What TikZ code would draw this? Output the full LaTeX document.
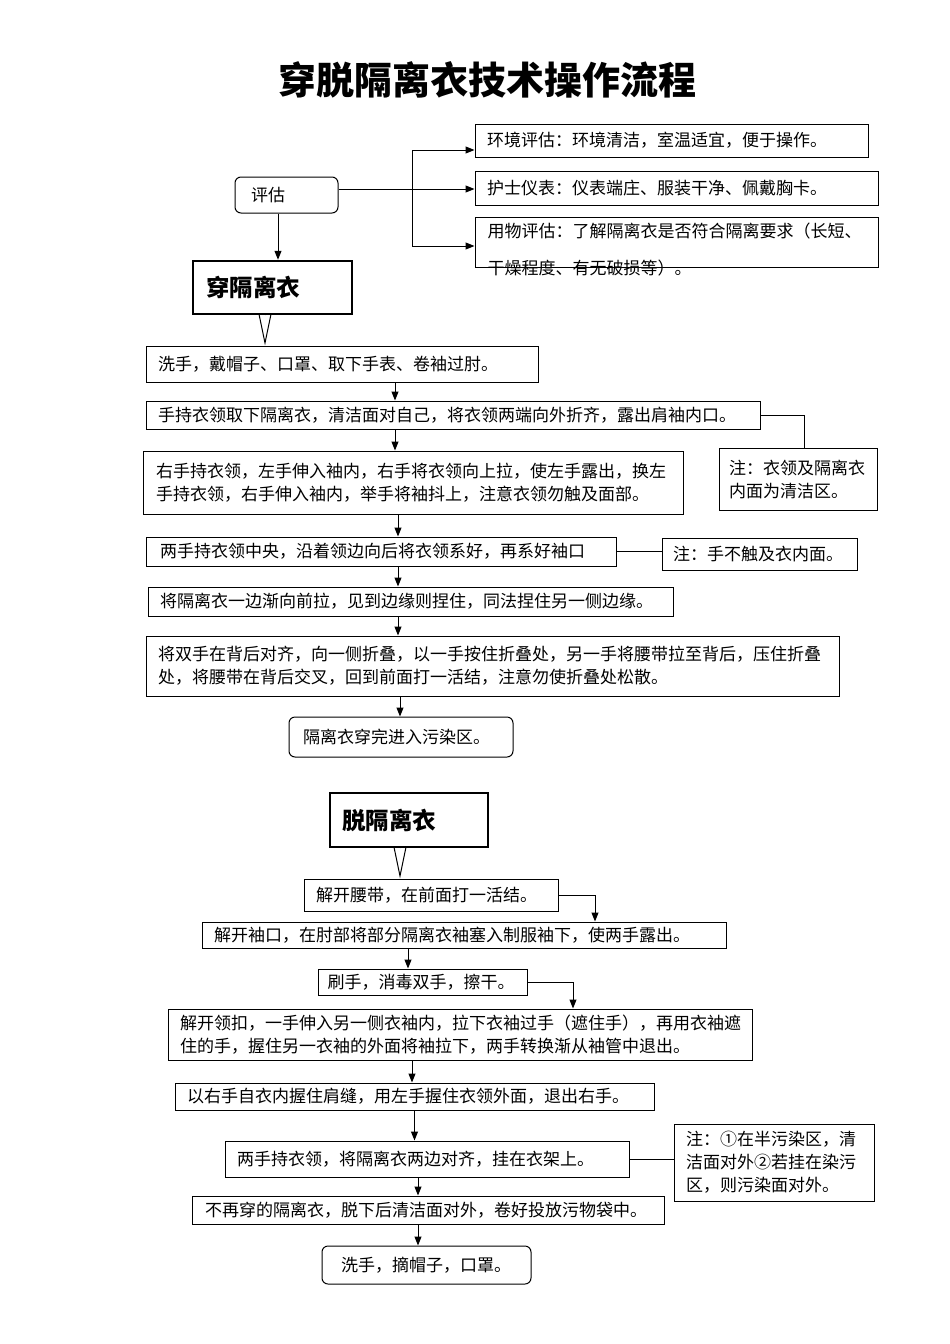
\documentclass[tikz,border=0pt]{standalone}
\usepackage{fontspec}
\setmainfont{Noto Sans CJK SC}
\usetikzlibrary{arrows.meta,positioning}
\newcommand{\bodyfs}{\fontsize{17}{23}\selectfont}
\newcommand{\headfs}{\fontsize{23.5}{28}\selectfont\bfseries}
\newcommand{\titlefs}{\fontsize{38}{44}\selectfont\bfseries}

\begin{document}
\begin{tikzpicture}[x=1pt, y=-1pt, line width=1pt,
	>={Triangle[length=9pt,width=7pt]},
	panel/.style={draw, rectangle, align=left, inner xsep=12pt, inner ysep=0pt, font=\bodyfs},
	headbox/.style={draw, rectangle, line width=2.5pt, align=left, inner xsep=13pt, inner ysep=0pt, font=\headfs},
	wedge/.style={-{Triangle[open,length=32pt,width=13pt]}}]

	\useasboundingbox (0,0) rectangle (950,1344);

	\node (Title)[font=\titlefs] at (487,80) {穿脱隔离衣技术操作流程};

	% assessment
	\node (G)[panel, rounded corners=6pt, text width=71pt, inner xsep=16pt, minimum height=36pt] at (286.5,195) {评估};
	\node (W1)[panel, text width=369pt, minimum height=33pt] at (671.5,140.5) {环境评估：环境清洁，室温适宜，便于操作。};
	\node (W2)[panel, text width=379pt, minimum height=34pt] at (676.5,188) {护士仪表：仪表端庄、服装干净、佩戴胸卡。};
	\node (W3)[panel, minimum width=403pt, minimum height=50pt] at (676.5,242) {};
	\node (W3t)[font=\bodyfs, anchor=west, align=left, inner sep=0pt] at (487,249.5) {用物评估：了解隔离衣是否符合隔离要求（长短、\\[14pt]干燥程度、有无破损等）。};
	\coordinate (J1) at (412,150);
	\coordinate (J2) at (412,246);

	% putting on
	\node (H1)[headbox, text width=133pt, minimum height=53pt] at (272.5,287.5) {穿隔离衣};
	\node (S1)[panel, text width=368pt, minimum height=36pt] at (342,364) {洗手，戴帽子、口罩、取下手表、卷袖过肘。};
	\node (S2)[panel, text width=590pt, minimum height=28pt] at (453,415) {手持衣领取下隔离衣，清洁面对自己，将衣领两端向外折齐，露出肩袖内口。};
	\node (N1)[panel, text width=138pt, inner xsep=10pt, minimum height=62pt] at (798,479) {注：衣领及隔离衣\\内面为清洁区。};
	\node (S3)[panel, text width=514pt, inner xsep=13pt, minimum height=63pt] at (413,482.5) {右手持衣领，左手伸入袖内，右手将衣领向上拉，使左手露出，换左\\手持衣领，右手伸入袖内，举手将袖抖上，注意衣领勿触及面部。};
	\node (S4)[panel, text width=442pt, inner xsep=14pt, minimum height=29pt] at (381,551.5) {两手持衣领中央，沿着领边向后将衣领系好，再系好袖口};
	\node (N2)[panel, text width=173pt, inner xsep=11pt, minimum height=32pt] at (759.5,554) {注：手不触及衣内面。};
	\node (S5)[panel, text width=501pt, minimum height=29pt] at (410.5,601.5) {将隔离衣一边渐向前拉，见到边缘则捏住，同法捏住另一侧边缘。};
	\node (S6)[panel, text width=669pt, minimum height=60pt] at (492.5,666) {将双手在背后对齐，向一侧折叠，以一手按住折叠处，另一手将腰带拉至背后，压住折叠\\处，将腰带在背后交叉，回到前面打一活结，注意勿使折叠处松散。};
	\node (S7)[panel, rounded corners=6pt, text width=196pt, inner xsep=14pt, minimum height=40pt] at (401,737) {隔离衣穿完进入污染区。};

	% taking off
	\node (H2)[headbox, text width=134pt, inner xsep=12pt, minimum height=54pt] at (409,820) {脱隔离衣};
	\node (T1)[panel, text width=230pt, minimum height=32pt] at (431,895) {解开腰带，在前面打一活结。};
	\node (T2)[panel, text width=500pt, minimum height=26pt] at (464,935) {解开袖口，在肘部将部分隔离衣袖塞入制服袖下，使两手露出。};
	\node (T3)[panel, text width=190pt, inner xsep=9.5pt, minimum height=26pt] at (422.5,982) {刷手，消毒双手，擦干。};
	\node (T4)[panel, text width=560pt, minimum height=51pt] at (460,1034.5) {解开领扣，一手伸入另一侧衣袖内，拉下衣袖过手（遮住手），再用衣袖遮\\住的手，握住另一衣袖的外面将袖拉下，两手转换渐从袖管中退出。};
	\node (T5)[panel, text width=455pt, minimum height=27pt] at (414.5,1096.5) {以右手自衣内握住肩缝，用左手握住衣领外面，退出右手。};
	\node (T6)[panel, text width=380pt, minimum height=36pt] at (427,1159) {两手持衣领，将隔离衣两边对齐，挂在衣架上。};
	\node (N3)[panel, text width=176pt, minimum height=77pt] at (774,1162.5) {注：①在半污染区，清\\洁面对外②若挂在染污\\区，则污染面对外。};
	\node (T7)[panel, text width=446pt, inner xsep=13pt, minimum height=28pt] at (428,1210) {不再穿的隔离衣，脱下后清洁面对外，卷好投放污物袋中。};
	\node (T8)[panel, rounded corners=6pt, text width=171pt, inner xsep=19pt, minimum height=38pt] at (426.5,1265) {洗手，摘帽子，口罩。};

	\draw (J1) to (J2);
	\draw [->] (J1) to (J1 -| W1.west);
	\draw [->] ([yshift=6pt]G.east) to ([yshift=6pt]G.east -| W2.west);
	\draw [->] (J2) to (J2 -| W3.west);
	\draw [->] ([xshift=-8.5pt]G.south) to ([xshift=-8.5pt]G.south |- H1.north);

	\draw [wedge] ([xshift=-7.5pt]H1.south) to ([xshift=-7.5pt]H1.south |- S1.north);
	\draw [->] ([xshift=53pt]S1.south) to ([xshift=53pt]S1.south |- S2.north);
	\draw [->] ([xshift=-58pt]S2.south) to ([xshift=-58pt]S2.south |- S3.north);
	\draw [->] ([xshift=-15pt]S3.south) to ([xshift=-15pt]S3.south |- S4.north);
	\draw [->] ([xshift=17pt]S4.south) to ([xshift=17pt]S4.south |- S5.north);
	\draw [->] ([xshift=-12.5pt]S5.south) to ([xshift=-12.5pt]S5.south |- S6.north);
	\draw [->] ([xshift=-92.5pt]S6.south) to ([xshift=-92.5pt]S6.south |- S7.north);
	\draw (S2.east) -| ([xshift=6pt]N1.north);
	\draw (S4.east) to (S4.east -| N2.west);

	\draw [wedge] ([xshift=-9pt]H2.south) to ([xshift=-9pt]H2.south |- T1.north);
	\draw [->] (T1.east) -| ([xshift=131pt]T2.north);
	\draw [->] ([xshift=-56pt]T2.south) to ([xshift=-56pt]T2.south |- T3.north);
	\draw [->] (T3.east) -| ([xshift=113pt]T4.north);
	\draw [->] ([xshift=-48pt]T4.south) to ([xshift=-48pt]T4.south |- T5.north);
	\draw [->] (T5.south) to (T5.south |- T6.north);
	\draw [->] ([xshift=-9pt]T6.south) to ([xshift=-9pt]T6.south |- T7.north);
	\draw [->] ([xshift=-10pt]T7.south) to ([xshift=-10pt]T7.south |- T8.north);
	\draw (T6.east) to (T6.east -| N3.west);

\end{tikzpicture}
\end{document}
